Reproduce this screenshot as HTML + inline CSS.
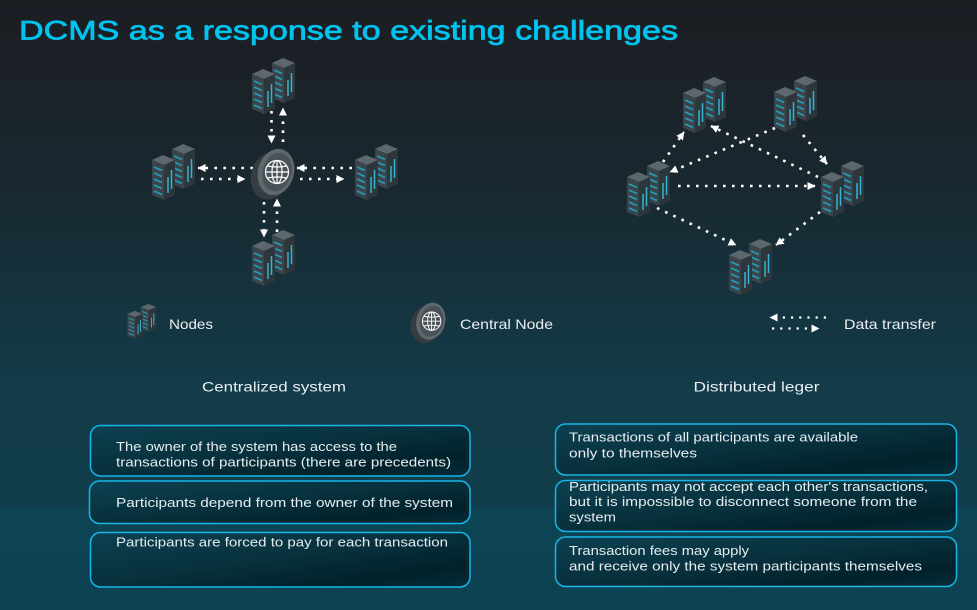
<!DOCTYPE html>
<html>
<head>
<meta charset="utf-8">
<style>
  html, body { margin: 0; padding: 0; width: 977px; height: 610px; overflow: hidden; background: #15303a; }
  svg { display: block; }
  text { font-family: "Liberation Sans", sans-serif; }
</style>
</head>
<body>
<svg width="977" height="610" viewBox="0 0 977 610" xmlns="http://www.w3.org/2000/svg">
  <defs>
    <linearGradient id="bg" x1="0" y1="0" x2="0" y2="610" gradientUnits="userSpaceOnUse">
      <stop offset="0" stop-color="#1b1e23"/>
      <stop offset="0.12" stop-color="#1b2127"/>
      <stop offset="0.3" stop-color="#192830"/>
      <stop offset="0.45" stop-color="#16313b"/>
      <stop offset="0.63" stop-color="#133b49"/>
      <stop offset="0.83" stop-color="#113e4c"/>
      <stop offset="0.838" stop-color="#0d4555"/>
      <stop offset="1" stop-color="#0c4151"/>
    </linearGradient>
    <linearGradient id="box" x1="0" y1="0" x2="1" y2="1">
      <stop offset="0" stop-color="#0d4151"/>
      <stop offset="0.5" stop-color="#07303c"/>
      <stop offset="0.8" stop-color="#02212a"/>
      <stop offset="1" stop-color="#062d39"/>
    </linearGradient>
    <marker id="ah" viewBox="0 0 8 8" refX="7.5" refY="4" markerWidth="8" markerHeight="8" markerUnits="userSpaceOnUse" orient="auto">
      <path d="M0,0 L8,4 L0,8 z" fill="#ffffff"/>
    </marker>

    <g id="srv">
      <!-- back tower -->
      <polygon points="22,5 33,0 45,5 34,10" fill="#5c676e"/>
      <polygon points="22,5 34,10 34,45 22,40" fill="#3a444a"/>
      <polygon points="34,10 45,5 45,40 34,45" fill="#2d363b"/>
      <g stroke="#2596b0" stroke-width="1.8">
        <line x1="24" y1="12" x2="32" y2="15.5"/>
        <line x1="24" y1="18" x2="32" y2="21.5"/>
        <line x1="24" y1="24" x2="32" y2="27.5"/>
        <line x1="24" y1="30" x2="32" y2="33.5"/>
        <line x1="24" y1="36" x2="32" y2="39.5"/>
      </g>
      <g stroke="#34b4d0" stroke-width="1.5">
        <line x1="38" y1="22" x2="38" y2="38"/>
        <line x1="41.5" y1="15" x2="41.5" y2="34"/>
      </g>
      <!-- front tower -->
      <polygon points="2,16 13,11 25,16 14,21" fill="#5c676e"/>
      <polygon points="2,16 14,21 14,56 2,51" fill="#3a444a"/>
      <polygon points="14,21 25,16 25,51 14,56" fill="#2d363b"/>
      <g stroke="#2596b0" stroke-width="1.8">
        <line x1="4" y1="23" x2="12" y2="26.5"/>
        <line x1="4" y1="29" x2="12" y2="32.5"/>
        <line x1="4" y1="35" x2="12" y2="38.5"/>
        <line x1="4" y1="41" x2="12" y2="44.5"/>
        <line x1="4" y1="47" x2="12" y2="50.5"/>
      </g>
      <g stroke="#34b4d0" stroke-width="1.5">
        <line x1="18" y1="33" x2="18" y2="49"/>
        <line x1="21.5" y1="26" x2="21.5" y2="45"/>
      </g>
    </g>

    <g id="disc">
      <ellipse cx="-5" cy="3" rx="19" ry="24" transform="rotate(15 -5 3)" fill="#353d42"/>
      <ellipse cx="1" cy="-1" rx="18" ry="23.5" transform="rotate(15 1 -1)" fill="#5f686d"/>
      <ellipse cx="2" cy="-1" rx="14.5" ry="19.5" transform="rotate(15 2 -1)" fill="#4a5257"/>
      <g fill="none" stroke="#ffffff" stroke-width="1.2" transform="translate(2,-1)">
        <circle cx="0" cy="0" r="11.5"/>
        <ellipse cx="0" cy="0" rx="5" ry="11.5"/>
        <line x1="0" y1="-11.5" x2="0" y2="11.5"/>
        <line x1="-11.5" y1="0" x2="11.5" y2="0"/>
        <path d="M-9.5,-6 Q0,-4 9.5,-6"/>
        <path d="M-9.5,6 Q0,4 9.5,6"/>
      </g>
    </g>
  </defs>

  <rect x="0" y="0" width="977" height="610" fill="url(#bg)"/>

  <!-- Title -->
  <text x="19" y="39.5" font-size="27" fill="#00c3ef" stroke="#00c3ef" stroke-width="0.7" textLength="659" lengthAdjust="spacingAndGlyphs">DCMS as a response to existing challenges</text>

  <!-- Centralized diagram connectors -->
  <g stroke="#ffffff" stroke-width="2.6" stroke-dasharray="2.6 6.4" fill="none" marker-end="url(#ah)">
    <line x1="271.5" y1="111" x2="271.5" y2="143"/>
    <line x1="283" y1="142" x2="283" y2="108"/>
    <line x1="253" y1="168" x2="198" y2="168"/>
    <line x1="201" y1="179" x2="245" y2="179"/>
    <line x1="352" y1="168" x2="297" y2="168"/>
    <line x1="300" y1="179" x2="344" y2="179"/>
    <line x1="264" y1="202" x2="264" y2="237"/>
    <line x1="277" y1="232" x2="277" y2="199"/>
  </g>

  <!-- Centralized nodes -->
  <use href="#srv" x="250" y="58"/>
  <use href="#srv" x="150" y="144"/>
  <use href="#srv" x="353" y="144"/>
  <use href="#srv" x="250" y="230"/>
  <use href="#disc" transform="translate(275,173)"/>

  <!-- Distributed connectors -->
  <g stroke="#ffffff" stroke-width="2.6" stroke-dasharray="2.6 6.4" fill="none" marker-end="url(#ah)">
    <line x1="663" y1="162" x2="684" y2="132"/>
    <line x1="775" y1="128" x2="670" y2="172"/>
    <line x1="818" y1="177" x2="711" y2="126"/>
    <line x1="803" y1="135" x2="827" y2="164"/>
    <line x1="678" y1="186" x2="815" y2="186"/>
    <line x1="657" y1="208" x2="736" y2="245"/>
    <line x1="820" y1="212" x2="776" y2="245"/>
  </g>

  <!-- Distributed nodes -->
  <use href="#srv" x="681" y="77"/>
  <use href="#srv" x="772" y="76"/>
  <use href="#srv" x="625" y="161"/>
  <use href="#srv" x="819" y="161"/>
  <use href="#srv" x="727" y="239"/>

  <!-- Legend -->
  <use href="#srv" transform="translate(126,304) scale(0.67,0.62)"/>
  <text x="169" y="329" font-size="14" fill="#e9eef0" textLength="44" lengthAdjust="spacingAndGlyphs">Nodes</text>
  <use href="#disc" transform="translate(430,322) scale(0.8)"/>
  <text x="460" y="329" font-size="14" fill="#e9eef0" textLength="93" lengthAdjust="spacingAndGlyphs">Central Node</text>
  <g stroke="#ffffff" stroke-width="2.2" stroke-dasharray="2.2 6" fill="none" marker-end="url(#ah)">
    <line x1="826" y1="317.5" x2="770" y2="317.5"/>
    <line x1="772" y1="328.5" x2="819" y2="328.5"/>
  </g>
  <text x="844" y="329" font-size="14" fill="#e9eef0" textLength="92" lengthAdjust="spacingAndGlyphs">Data transfer</text>

  <text x="202" y="391.5" font-size="14" fill="#e9eef0" textLength="144" lengthAdjust="spacingAndGlyphs">Centralized system</text>
  <text x="693.5" y="391.5" font-size="14" fill="#e9eef0" textLength="126" lengthAdjust="spacingAndGlyphs">Distributed leger</text>

  <!-- Boxes -->
  <g fill="url(#box)" stroke="#17b6e8" stroke-width="1.5">
    <rect x="90.5" y="425.5" width="379.5" height="50.5" rx="10"/>
    <rect x="89.5" y="481" width="380.5" height="42.5" rx="10"/>
    <rect x="90.5" y="532.5" width="379.5" height="54.5" rx="10"/>
    <rect x="555.5" y="424" width="401" height="51" rx="10"/>
    <rect x="555.5" y="480.5" width="401" height="51" rx="10"/>
    <rect x="555.5" y="537" width="401" height="49.5" rx="10"/>
  </g>

  <g font-size="13" fill="#e6edf0">
    <text x="116" y="451" textLength="281" lengthAdjust="spacingAndGlyphs">The owner of the system has access to the</text>
    <text x="116" y="466.5" textLength="335" lengthAdjust="spacingAndGlyphs">transactions of participants (there are precedents)</text>
    <text x="116" y="507" textLength="337" lengthAdjust="spacingAndGlyphs">Participants depend from the owner of the system</text>
    <text x="116" y="546.5" textLength="332" lengthAdjust="spacingAndGlyphs">Participants are forced to pay for each transaction</text>

    <text x="569" y="441.5" textLength="289" lengthAdjust="spacingAndGlyphs">Transactions of all participants are available</text>
    <text x="569" y="457.5" textLength="128" lengthAdjust="spacingAndGlyphs">only to themselves</text>
    <text x="569" y="491" textLength="359" lengthAdjust="spacingAndGlyphs">Participants may not accept each other's transactions,</text>
    <text x="569" y="506" textLength="348" lengthAdjust="spacingAndGlyphs">but it is impossible to disconnect someone from the</text>
    <text x="569" y="521.5" textLength="47" lengthAdjust="spacingAndGlyphs">system</text>
    <text x="569" y="555" textLength="180" lengthAdjust="spacingAndGlyphs">Transaction fees may apply</text>
    <text x="569" y="570.5" textLength="353" lengthAdjust="spacingAndGlyphs">and receive only the system participants themselves</text>
  </g>
</svg>
</body>
</html>
